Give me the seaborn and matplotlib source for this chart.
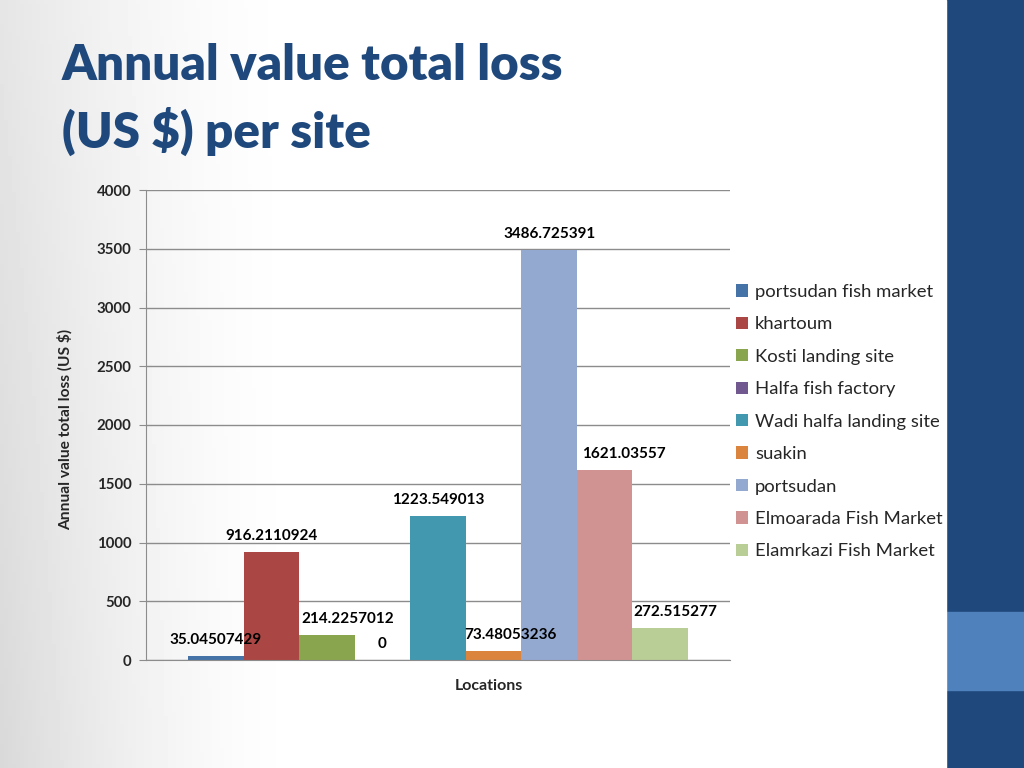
import numpy as np
import pandas as pd
import seaborn as sns
import matplotlib.pyplot as plt

# =============================================================================
# Data
# =============================================================================
sites = ['portsudan fish market', 'khartoum', 'Kosti landing site',
         'Halfa fish factory', 'Wadi halfa landing site', 'suakin',
         'portsudan', 'Elmoarada Fish Market', 'Elamrkazi Fish Market']
losses = [35.04507429, 916.2110924, 214.2257012, 0, 1223.549013,
          73.48053236, 3486.725391, 1621.03557, 272.515277]
labels = ['35.04507429', '916.2110924', '214.2257012', '0', '1223.549013',
          '73.48053236', '3486.725391', '1621.03557', '272.515277']
y_ticks = [0, 500, 1000, 1500, 2000, 2500, 3000, 3500, 4000]

colors = ['#4572a7', '#aa4643', '#89a54e', '#71588f', '#4198af',
          '#db843d', '#93a9cf', '#d19392', '#b9cd96']
# label shifts in pixels (as placed in the original slide)
label_dx = [0, 0, 21, 0, 0, 17, 0, 19, 15]

df = pd.DataFrame({'Location': [''] * len(sites), 'Site': sites, 'Loss': losses})

# =============================================================================
# Plotting
# =============================================================================
sns.set_style('white')
plt.rcParams['font.family'] = ['Lato', 'DejaVu Sans']

fig = plt.figure(figsize=(10.24, 7.68), dpi=100)

# slide background: grey fade on the left
bg = fig.add_axes([0, 0, 1, 1], zorder=-10)
xx, yy = np.meshgrid(np.linspace(0, 1, 256), np.linspace(0, 1, 192))
shade = np.clip(1 - xx / 0.30, 0, 1) ** 1.6 * (0.10 + 0.05 * yy)
bg.imshow(1 - shade, cmap='gray', vmin=0, vmax=1, aspect='auto',
          extent=[0, 1, 0, 1], origin='upper')
bg.add_patch(plt.Rectangle((946 / 1024, 0), 78 / 1024, 1, color='#1f497d'))
bg.add_patch(plt.Rectangle((946 / 1024, 78 / 768), 78 / 1024, 78 / 768,
                           color='#4f81bd'))
bg.add_patch(plt.Rectangle((944 / 1024, 0), 2 / 1024, 1, color='white'))
bg.set_xlim(0, 1)
bg.set_ylim(0, 1)
bg.axis('off')

# title
fig.text(62 / 1024, 1 - 80 / 768, 'Annual value total loss', fontsize=35.5,
         fontweight='heavy', color='#1f497d', va='baseline')
fig.text(62 / 1024, 1 - 148 / 768, '(US $) per site', fontsize=35.5,
         fontweight='heavy', color='#1f497d', va='baseline')

ax = fig.add_axes([146 / 1024, 108 / 768, 584 / 1024, 470 / 768])
ax.patch.set_alpha(0)

sns.barplot(data=df, x='Location', y='Loss', hue='Site', palette=colors,
            width=0.856, saturation=1, linewidth=0, ax=ax, legend=True)

ax.set_xlim(-0.5, 0.5)
ax.set_ylim(0, 4000)
ax.set_yticks(y_ticks)
ax.set_yticklabels([str(t) for t in y_ticks], fontsize=10.8, fontweight='bold')
ax.set_xticks([])
ax.grid(True, axis='y', color='#8c8c8c', linewidth=1)
ax.set_axisbelow(True)
for side in ['top', 'right']:
    ax.spines[side].set_visible(False)
for side in ['left', 'bottom']:
    ax.spines[side].set_color('#8c8c8c')
ax.tick_params(axis='y', length=5, color='#8c8c8c', pad=5.5, left=True)

ax.set_ylabel('Annual value total loss (US $)', fontsize=11.2, fontweight='bold')
ax.yaxis.set_label_coords(-(146 - 65) / 584, (429 - 190) / 470 * -1 + 1)
ax.yaxis.label.set_va('center')
ax.set_xlabel('Locations', fontsize=11.5, fontweight='bold')
ax.xaxis.set_label_coords((489 - 146) / 584, -(686 - 660) / 470)
ax.xaxis.label.set_va('center')

# data labels
for bar, lab, dx in zip(ax.patches, labels, label_dx):
    ax.annotate(lab, (bar.get_x() + bar.get_width() / 2, bar.get_height()),
                xytext=(dx, 16), textcoords='offset pixels', ha='center',
                va='center', fontsize=11, fontweight='bold', color='black')

ax.legend(loc='upper left', bbox_to_anchor=(1.0, 0.812), frameon=False,
          fontsize=13.3, handlelength=0.65, handleheight=0.65,
          handletextpad=0.4, labelspacing=0.89, borderaxespad=0.0,
          borderpad=0.3)

plt.savefig('out.png', dpi=100)
